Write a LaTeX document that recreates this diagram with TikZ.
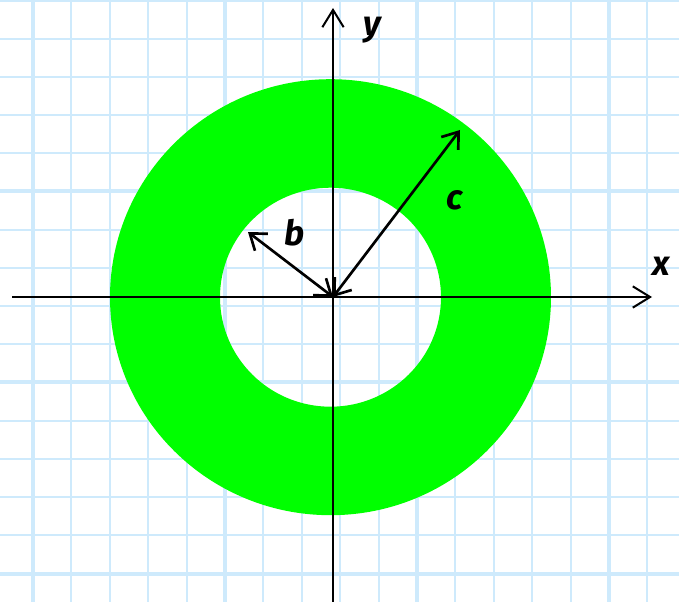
\documentclass[tikz,border=0pt]{standalone}
\usepackage{fontspec}
\setmainfont{Fira Sans}
\usetikzlibrary{arrows.meta}
\definecolor{gridblue}{RGB}{206,234,252}
\definecolor{ringgreen}{RGB}{0,255,0}
\tikzset{
  minorline/.style={gridblue, line width=1.5pt},
  majorline/.style={gridblue, line width=3pt},
  axisline/.style={black, line width=1.5pt, -{Straight Barb[length=13pt,width=16pt,line width=1.5pt]}},
  radiusline/.style={black, line width=2pt, {Straight Barb[length=11pt,width=16pt,line width=2pt]}-{Straight Barb[length=11pt,width=16pt,line width=2pt]}},
  lbl/.style={font=\fontsize{26pt}{28pt}\selectfont\bfseries\itshape, inner sep=0pt}
}
\begin{document}
\begin{tikzpicture}[x=0.75pt,y=-0.75pt]
\useasboundingbox (0,0) rectangle (679,602);
\fill[white] (0,0) rectangle (679,602);
\begin{scope}
\clip (0,0) rectangle (679,602);
\foreach \k in {-1,...,17}{
  \pgfmathsetmacro{\xx}{33+38.4*\k}
  \pgfmathtruncatemacro{\m}{mod(\k+5,5)}
  \ifnum\m=0
    \draw[majorline] (\xx,0) -- (\xx,602);
  \else
    \draw[minorline] (\xx,0) -- (\xx,602);
  \fi
}
\foreach \k in {0,...,16}{
  \pgfmathsetmacro{\yy}{0.5+38.2*\k}
  \pgfmathtruncatemacro{\m}{mod(\k,5)}
  \ifnum\m=0
    \draw[majorline] (0,\yy) -- (679,\yy);
  \else
    \draw[minorline] (0,\yy) -- (679,\yy);
  \fi
}
\end{scope}
\coordinate (O) at (333,297);
\coordinate (C) at (330.5,297.2);
\fill[ringgreen, even odd rule] (C) ellipse[x radius=220.5, y radius=218] (C) ellipse[x radius=110.5, y radius=109.5];
\coordinate (xs) at (12,297);
\coordinate (xe) at (652,297);
\coordinate (ys) at (333,602);
\coordinate (ye) at (333,8);
\draw[axisline] (xs) -- (xe);
\draw[axisline] (ys) -- (ye);
\coordinate (bend) at (248,232);
\coordinate (cend) at (460,130);
\draw[radiusline] (bend) -- (O);
\draw[radiusline] (cend) -- (O);
\node[lbl] (ylab) at (372,30) {y};
\node[lbl] (xlab) at (661,266) {x};
\node[lbl] (blab) at (295,233) {b};
\node[lbl] (clab) at (455,200) {c};
\end{tikzpicture}
\end{document}
